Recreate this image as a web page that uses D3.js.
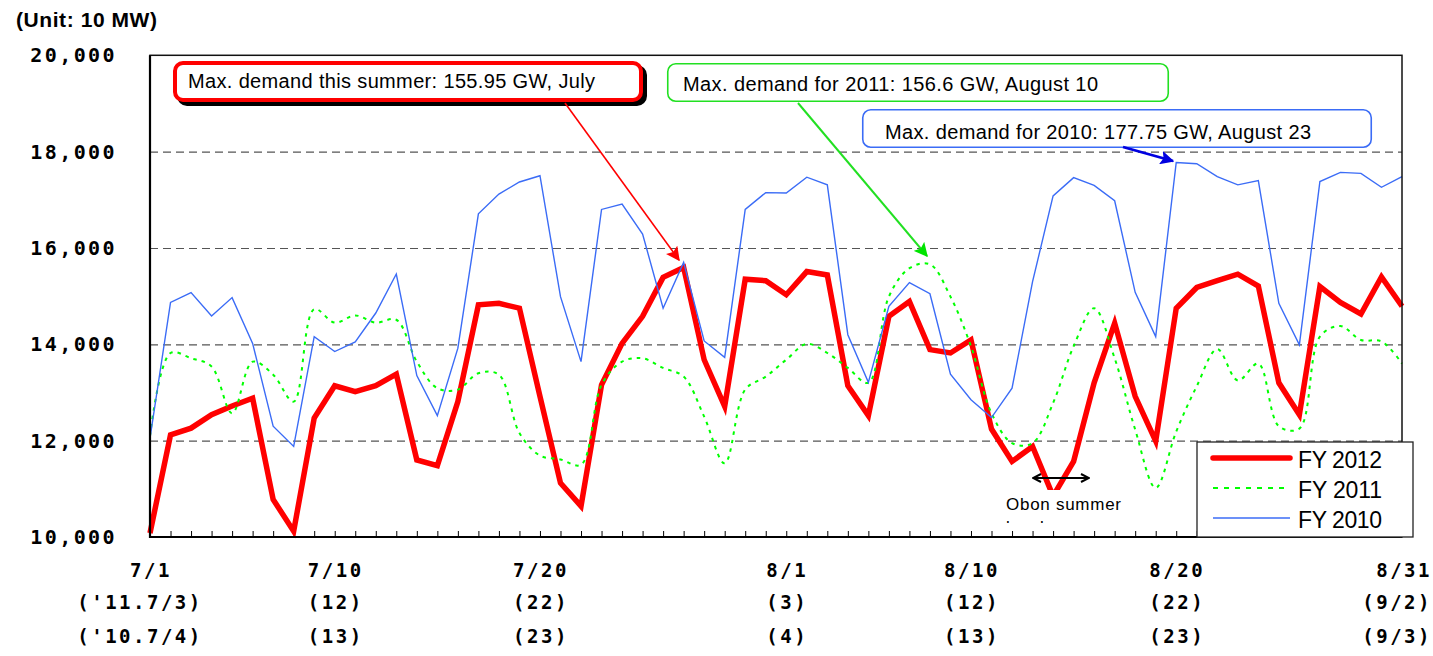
<!DOCTYPE html>
<html>
<head>
<meta charset="utf-8">
<script src="https://cdnjs.cloudflare.com/ajax/libs/d3/7.8.5/d3.min.js"></script>
<style>
  body { margin: 0; background: #fff; }
  svg { display: block; }
</style>
</head>
<body>
<script>
// days 7/1 .. 8/31
var days = [];
for (var d = 1; d <= 31; d++) days.push("7/" + d);
for (var d = 1; d <= 31; d++) days.push("8/" + d);

// unit: 10 MW
var fy2012 = [
  10080, 12120, 12260, 12540, 12720, 12880, 10780, 10120, 12470, 13140,
  13020, 13140, 13380, 11600, 11480, 12810, 14820, 14850, 14750, 12920,
  11120, 10640, 13160, 14020, 14580, 15390, 15595, 13680, 12710, 15350,
  15320, 15030, 15510, 15440, 13140, 12520, 14580, 14890, 13890, 13820,
  14090, 12240, 11570, 11880, 10850, 11570, 13200, 14440, 12920, 11990,
  14750, 15180, 15320, 15456, 15210, 13200, 12540, 15200, 14870, 14630,
  15400, 14790
];
var fy2011 = [
  12100, 13820, 13710, 13540, 12570, 13640, 13370, 12810, 14730, 14450,
  14600, 14450, 14510, 13640, 13090, 13060, 13400, 13370, 12160, 11690,
  11610, 11500, 13160, 13640, 13710, 13510, 13330, 12500, 11530, 13060,
  13330, 13680, 14010, 13820, 13510, 13200, 14990, 15580, 15660, 14990,
  13960, 12570, 11950, 11950, 12780, 13960, 14750, 13710, 12230, 11020,
  12190, 13130, 13900, 13250, 13600, 12300, 12250, 14160, 14380, 14090,
  14060, 13600
];
var fy2010 = [
  12050, 14870, 15075, 14590, 14970, 14020, 12300, 11880, 14160, 13850,
  14050, 14650, 15460, 13350, 12520, 13920, 16710, 17120, 17370, 17500,
  14990, 13640, 16800, 16910, 16290, 14750, 15700, 14070, 13730, 16800,
  17150, 17140, 17470, 17310, 14200, 13210, 14790, 15280, 15050, 13380,
  12850, 12480, 13090, 15300, 17080, 17460, 17300, 16980, 15080, 14160,
  17775, 17750, 17480, 17310, 17400, 14850, 13990, 17380, 17570, 17550,
  17260, 17480
];

var yTicks = [10000, 12000, 14000, 16000, 18000, 20000];
var gridTicks = [12000, 14000, 16000, 18000];
var labelDays = ["7/1", "7/10", "7/20", "8/1", "8/10", "8/20", "8/31"];
var labels2011 = ["('11.7/3)", "(12)", "(22)", "(3)", "(12)", "(22)", "(9/2)"];
var labels2010 = ["('10.7/4)", "(13)", "(23)", "(4)", "(13)", "(23)", "(9/3)"];

var W = 1433, H = 656;
var pLeft = 150, pRight = 1402, pTop = 55.3, pBottom = 537;

var svg = d3.select("body").append("svg")
  .attr("width", W)
  .attr("height", H);

var defs = svg.append("defs");
function arrowMarker(id, color, size) {
  defs.append("marker")
    .attr("id", id)
    .attr("viewBox", "0 0 10 10")
    .attr("refX", 9).attr("refY", 5)
    .attr("markerUnits", "userSpaceOnUse")
    .attr("markerWidth", size).attr("markerHeight", size)
    .attr("orient", "auto-start-reverse")
    .append("path")
      .attr("d", "M0,0 L10,5 L0,10 L2,5 Z")
      .attr("fill", color);
}
arrowMarker("arRed", "#ff0000", 14);
arrowMarker("arGreen", "#00e400", 14);
arrowMarker("arBlue", "#0000e0", 14);
defs.append("marker")
  .attr("id", "arBlack")
  .attr("viewBox", "0 0 10 10")
  .attr("refX", 9).attr("refY", 5)
  .attr("markerUnits", "userSpaceOnUse")
  .attr("markerWidth", 10).attr("markerHeight", 10)
  .attr("orient", "auto-start-reverse")
  .append("path")
    .attr("d", "M1,1 L9,5 L1,9")
    .attr("fill", "none")
    .attr("stroke", "#000")
    .attr("stroke-width", 2);

var x = d3.scalePoint().domain(days).range([pLeft, pRight]);
var y = d3.scaleLinear().domain([10000, 20000]).range([pBottom, pTop]);

// unit label
svg.append("text")
  .attr("x", 16).attr("y", 27)
  .attr("font-family", "Liberation Sans, Arial, sans-serif")
  .attr("font-weight", "bold")
  .attr("font-size", "21px")
  .attr("textLength", 141)
  .text("(Unit: 10 MW)");

// grid
svg.append("g")
  .attr("transform", "translate(" + pLeft + ",0)")
  .call(d3.axisLeft(y).tickValues(gridTicks).tickSize(-(pRight - pLeft)).tickFormat(""))
  .call(function (g) { g.select(".domain").remove(); })
  .selectAll("line")
    .attr("stroke", "#555")
    .attr("stroke-width", 1.2)
    .attr("stroke-dasharray", "8,5");

// y labels
svg.append("g").selectAll("text")
  .data(yTicks)
  .enter().append("text")
    .attr("x", 117)
    .attr("y", function (v) { return y(v) + 7; })
    .attr("text-anchor", "end")
    .attr("font-family", "DejaVu Sans Mono, monospace")
    .attr("font-weight", "bold")
    .attr("font-size", "20px")
    .attr("letter-spacing", "2.4px")
    .text(function (v) { return d3.format(",")(v); });

// x ticks (inside)
svg.append("g")
  .attr("transform", "translate(0," + pBottom + ")")
  .call(d3.axisBottom(x).tickSize(-6).tickFormat(""))
  .call(function (g) { g.select(".domain").remove(); })
  .selectAll("line")
    .attr("stroke", "#000")
    .attr("stroke-width", 1);

// x labels, three rows
var rows = [[labelDays, 577], [labels2011, 609], [labels2010, 643]];
var lastCol = labelDays.length - 1;
rows.forEach(function (r) {
  svg.append("g").selectAll("text")
    .data(r[0])
    .enter().append("text")
      .attr("x", function (t, i) {
        if (i === lastCol) return 1432;
        var px = x(labelDays[i]);
        if (i === 0 && r[0] !== labelDays) px -= 11;
        return px + 1;
      })
      .attr("y", r[1])
      .attr("text-anchor", function (t, i) { return i === lastCol ? "end" : "middle"; })
      .attr("font-family", "DejaVu Sans Mono, monospace")
      .attr("font-weight", "bold")
      .attr("font-size", "19px")
      .attr("letter-spacing", "2.5px")
      .text(function (t) { return t; });
});

// series
function lineOf(values, curve) {
  return d3.line()
    .x(function (v, i) { return x(days[i]); })
    .y(function (v) { return y(v); })
    .curve(curve)(values);
}

svg.append("path")
  .attr("d", lineOf(fy2012, d3.curveLinear))
  .attr("fill", "none")
  .attr("stroke", "#ff0000")
  .attr("stroke-width", 5.5);

svg.append("path")
  .attr("d", lineOf(fy2011, d3.curveCatmullRom.alpha(0.5)))
  .attr("fill", "none")
  .attr("stroke", "#00ff00")
  .attr("stroke-width", 2)
  .attr("stroke-dasharray", "3.5,5");

svg.append("path")
  .attr("d", lineOf(fy2010, d3.curveLinear))
  .attr("fill", "none")
  .attr("stroke", "#3b6cf6")
  .attr("stroke-width", 1.4);

// frame
svg.append("rect")
  .attr("x", pLeft).attr("y", pTop)
  .attr("width", pRight - pLeft).attr("height", pBottom - pTop)
  .attr("fill", "none")
  .attr("stroke", "#111")
  .attr("stroke-width", 1.5);
svg.append("path")
  .attr("d", "M" + pLeft + "," + pTop + "V" + pBottom + "H" + pRight)
  .attr("fill", "none")
  .attr("stroke", "#000")
  .attr("stroke-width", 2.2);

// Obon note
svg.append("line")
  .attr("x1", 1033).attr("y1", 478).attr("x2", 1089).attr("y2", 478)
  .attr("stroke", "#000").attr("stroke-width", 2)
  .attr("marker-start", "url(#arBlack)")
  .attr("marker-end", "url(#arBlack)");
defs.append("clipPath").attr("id", "obonClip")
  .append("rect").attr("x", 998).attr("y", 490).attr("width", 130).attr("height", 33);
var obon = svg.append("g").attr("clip-path", "url(#obonClip)");
obon.append("rect")
  .attr("x", 998).attr("y", 490).attr("width", 130).attr("height", 33)
  .attr("fill", "#fff");
obon.append("text")
  .attr("x", 1006).attr("y", 510)
  .attr("font-family", "Liberation Sans, Arial, sans-serif")
  .attr("font-size", "17px")
  .attr("textLength", 115)
  .text("Obon summer");
obon.append("text")
  .attr("x", 1006).attr("y", 532.5)
  .attr("font-family", "Liberation Sans, Arial, sans-serif")
  .attr("font-size", "17px")
  .text("break");

// legend
var legendItems = [
  { name: "FY 2012", color: "#ff0000", width: 5.5, dash: null, x2: 1290 },
  { name: "FY 2011", color: "#00ff00", width: 2.2, dash: "5,6", x2: 1287 },
  { name: "FY 2010", color: "#3b6cf6", width: 1.6, dash: null, x2: 1290 }
];
var lg = svg.append("g");
lg.append("rect")
  .attr("x", 1197).attr("y", 442).attr("width", 216).attr("height", 95)
  .attr("fill", "#fff")
  .attr("stroke", "#222")
  .attr("stroke-width", 1.3);
legendItems.forEach(function (it, i) {
  var ly = 458 + i * 30;
  lg.append("line")
    .attr("x1", 1213).attr("x2", it.x2).attr("y1", ly).attr("y2", ly)
    .attr("stroke", it.color)
    .attr("stroke-width", it.width)
    .attr("stroke-linecap", i === 0 ? "round" : "butt")
    .attr("stroke-dasharray", it.dash);
  lg.append("text")
    .attr("x", 1298).attr("y", ly + 10)
    .attr("font-family", "Liberation Sans, Arial, sans-serif")
    .attr("font-size", "23px")
    .attr("textLength", 84)
    .text(it.name);
});

// annotations
var notes = [
  { text: "Max. demand this summer: 155.95 GW, July", x: 175, y: 63, w: 466, h: 37,
    color: "#ff0000", sw: 4, shadow: true, tx: 188, ty: 88, tl: 407,
    ax1: 565, ay1: 103, ax2: 679, ay2: 260, marker: "arRed", asw: 1.6 },
  { text: "Max. demand for 2011: 156.6 GW, August 10", x: 667.75, y: 63.75, w: 500.5, h: 37.5,
    color: "#22e022", sw: 1.6, shadow: false, tx: 683, ty: 90.5, tl: 415,
    ax1: 798, ay1: 103, ax2: 927, ay2: 256, marker: "arGreen", asw: 2 },
  { text: "Max. demand for 2010: 177.75 GW, August 23", x: 862.75, y: 109.75, w: 508.5, h: 37.5,
    color: "#3b6cf6", sw: 1.6, shadow: false, tx: 885, ty: 139, tl: 426,
    ax1: 1123, ay1: 147, ax2: 1173, ay2: 161, marker: "arBlue", asw: 2.8 }
];
notes.forEach(function (n) {
  var g = svg.append("g");
  if (n.shadow) {
    g.append("rect")
      .attr("x", n.x + 4).attr("y", n.y + 4).attr("width", n.w).attr("height", n.h)
      .attr("rx", 8)
      .attr("fill", "#000").attr("stroke", "#000").attr("stroke-width", n.sw);
  }
  g.append("rect")
    .attr("x", n.x).attr("y", n.y).attr("width", n.w).attr("height", n.h)
    .attr("rx", 8)
    .attr("fill", "#fff")
    .attr("stroke", n.color)
    .attr("stroke-width", n.sw);
  g.append("text")
    .attr("x", n.tx).attr("y", n.ty)
    .attr("font-family", "Liberation Sans, Arial, sans-serif")
    .attr("font-size", "20px")
    .attr("textLength", n.tl)
    .text(n.text);
  svg.append("line")
    .attr("x1", n.ax1).attr("y1", n.ay1).attr("x2", n.ax2).attr("y2", n.ay2)
    .attr("stroke", n.marker === "arBlue" ? "#0000e0" : n.color)
    .attr("stroke-width", n.asw)
    .attr("marker-end", "url(#" + n.marker + ")");
});
</script>
</body>
</html>
